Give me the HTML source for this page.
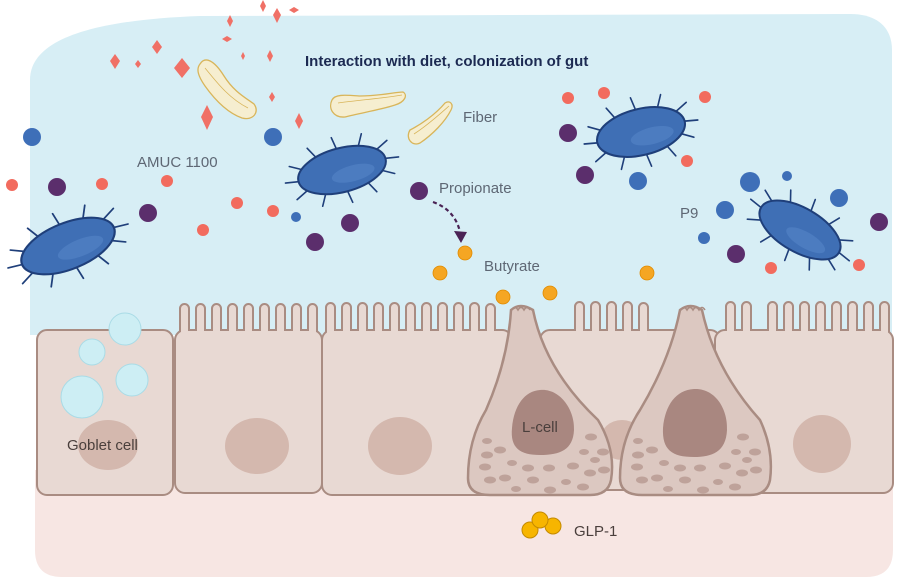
<!DOCTYPE html>
<html><head><meta charset="utf-8"><style>
html,body{margin:0;padding:0;background:#fff;}
svg{display:block;}
text{font-family:"Liberation Sans",sans-serif;}
</style></head><body>
<svg width="900" height="577" viewBox="0 0 900 577" xmlns="http://www.w3.org/2000/svg">
<defs>
<g id="bac">
 <g stroke="#1f3f7a" stroke-width="1.6" fill="none" stroke-linecap="round">
  <path d="M45,0 L58,2 M39,11 L50,17 M22,19 L28,30 M0,22 L2,34 M-22,19 L-28,30 M-39,11 L-51,17 M-45,0 L-58,-2 M-39,-11 L-50,-17 M-22,-19 L-28,-30 M0,-22 L-2,-34 M22,-19 L28,-30 M39,-11 L51,-17"/>
 </g>
 <ellipse cx="0" cy="0" rx="45" ry="22" fill="#3f6fb5" stroke="#1f3f7a" stroke-width="2"/>
 <ellipse cx="10" cy="6" rx="22" ry="8" fill="#5585c8" opacity="0.6"/>
</g>
</defs>

<!-- lumen -->
<path d="M30,80 C30,40 90,20 200,16 L850,14 C880,14 892,30 892,50 L892,335 L30,335 Z" fill="#d7eef5"/>
<!-- lamina -->
<path d="M35,470 L893,470 L893,550 Q893,577 866,577 L62,577 Q35,577 35,550 Z" fill="#f7e6e3"/>

<!-- villi (drawn first) -->
<g stroke="#a98c82" stroke-width="2" fill="#e8d9d3">
 <rect x="180" y="304" width="9" height="32" rx="4.5"/><rect x="196" y="304" width="9" height="32" rx="4.5"/><rect x="212" y="304" width="9" height="32" rx="4.5"/><rect x="228" y="304" width="9" height="32" rx="4.5"/><rect x="244" y="304" width="9" height="32" rx="4.5"/><rect x="260" y="304" width="9" height="32" rx="4.5"/><rect x="276" y="304" width="9" height="32" rx="4.5"/><rect x="292" y="304" width="9" height="32" rx="4.5"/><rect x="308" y="304" width="9" height="32" rx="4.5"/>
 <rect x="326" y="303" width="9" height="33" rx="4.5"/><rect x="342" y="303" width="9" height="33" rx="4.5"/><rect x="358" y="303" width="9" height="33" rx="4.5"/><rect x="374" y="303" width="9" height="33" rx="4.5"/><rect x="390" y="303" width="9" height="33" rx="4.5"/><rect x="406" y="303" width="9" height="33" rx="4.5"/><rect x="422" y="303" width="9" height="33" rx="4.5"/><rect x="438" y="303" width="9" height="33" rx="4.5"/><rect x="454" y="303" width="9" height="33" rx="4.5"/><rect x="470" y="303" width="9" height="33" rx="4.5"/><rect x="486" y="304" width="9" height="32" rx="4.5"/>
 <rect x="575" y="302" width="9" height="34" rx="4.5"/><rect x="591" y="302" width="9" height="34" rx="4.5"/><rect x="607" y="302" width="9" height="34" rx="4.5"/><rect x="623" y="302" width="9" height="34" rx="4.5"/><rect x="639" y="303" width="9" height="33" rx="4.5"/>
 <rect x="726" y="302" width="9" height="34" rx="4.5"/><rect x="742" y="302" width="9" height="34" rx="4.5"/>
 <rect x="768" y="302" width="9" height="34" rx="4.5"/><rect x="784" y="302" width="9" height="34" rx="4.5"/><rect x="800" y="302" width="9" height="34" rx="4.5"/><rect x="816" y="302" width="9" height="34" rx="4.5"/><rect x="832" y="302" width="9" height="34" rx="4.5"/><rect x="848" y="302" width="9" height="34" rx="4.5"/><rect x="864" y="302" width="9" height="34" rx="4.5"/><rect x="880" y="302" width="9" height="34" rx="4.5"/>
</g>

<!-- cells -->
<g stroke="#a98c82" stroke-width="2" fill="#e8d9d3">
 <rect x="37" y="330" width="136" height="165" rx="10"/>
 <rect x="175" y="330" width="147" height="163" rx="10"/>
 <rect x="322" y="330" width="190" height="165" rx="10"/>
 <rect x="540" y="330" width="180" height="160" rx="10"/>
 <rect x="715" y="330" width="178" height="163" rx="10"/>
</g>
<!-- covers inside villi -->
<g fill="#e8d9d3">
 <rect x="181" y="327" width="7" height="8"/><rect x="197" y="327" width="7" height="8"/><rect x="213" y="327" width="7" height="8"/><rect x="229" y="327" width="7" height="8"/><rect x="245" y="327" width="7" height="8"/><rect x="261" y="327" width="7" height="8"/><rect x="277" y="327" width="7" height="8"/><rect x="293" y="327" width="7" height="8"/><rect x="309" y="327" width="7" height="8"/>
 <rect x="327" y="327" width="7" height="8"/><rect x="343" y="327" width="7" height="8"/><rect x="359" y="327" width="7" height="8"/><rect x="375" y="327" width="7" height="8"/><rect x="391" y="327" width="7" height="8"/><rect x="407" y="327" width="7" height="8"/><rect x="423" y="327" width="7" height="8"/><rect x="439" y="327" width="7" height="8"/><rect x="455" y="327" width="7" height="8"/><rect x="471" y="327" width="7" height="8"/><rect x="487" y="327" width="7" height="8"/>
 <rect x="576" y="327" width="7" height="8"/><rect x="592" y="327" width="7" height="8"/><rect x="608" y="327" width="7" height="8"/><rect x="624" y="327" width="7" height="8"/><rect x="640" y="327" width="7" height="8"/>
 <rect x="727" y="327" width="7" height="8"/><rect x="743" y="327" width="7" height="8"/>
 <rect x="769" y="327" width="7" height="8"/><rect x="785" y="327" width="7" height="8"/><rect x="801" y="327" width="7" height="8"/><rect x="817" y="327" width="7" height="8"/><rect x="833" y="327" width="7" height="8"/><rect x="849" y="327" width="7" height="8"/><rect x="865" y="327" width="7" height="8"/><rect x="881" y="327" width="7" height="8"/>
</g>
<!-- nuclei -->
<g fill="#d4b8ae">
 <ellipse cx="108" cy="445" rx="30" ry="25"/>
 <ellipse cx="257" cy="446" rx="32" ry="28"/>
 <ellipse cx="400" cy="446" rx="32" ry="29"/>
 <ellipse cx="622" cy="440" rx="22" ry="20"/>
 <ellipse cx="822" cy="444" rx="29" ry="29"/>
</g>
<!-- goblet vesicles -->
<g fill="#cdeef4" stroke="#a9dbe6" stroke-width="1">
 <circle cx="125" cy="329" r="16"/>
 <circle cx="92" cy="352" r="13"/>
 <circle cx="132" cy="380" r="16"/>
 <circle cx="82" cy="397" r="21"/>
</g>
<!-- L-cells -->
<g stroke="#a98c82" stroke-width="2.5" fill="#dcc8c1">
 <path d="M511,310 Q520,302 533,310 Q545,370 598,420 Q616,450 611,480 Q608,495 590,495 L490,495 Q468,495 468,478 Q468,440 486,410 Q508,360 511,310 Z"/>
 <path d="M680,310 Q690,302 702,310 Q715,370 760,420 Q774,450 770,480 Q767,495 750,495 L642,495 Q620,495 620,478 Q620,440 640,410 Q670,360 680,310 Z"/>
</g>
<g stroke="#a98c82" stroke-width="1.5" fill="none">
 <path d="M512,310 q3,-5 6,0 q3,-5 6,0 q3,-5 6,0"/>
 <path d="M681,310 q3,-5 6,0 q3,-5 6,0 q3,-5 6,0 q3,-5 6,0"/>
</g>
<g fill="#a98780">
 <path d="M540,390 C560,388 575,410 574,430 C573,450 560,455 540,455 C520,455 510,448 512,428 C514,405 525,391 540,390 Z"/>
 <path d="M694,389 C716,388 728,410 727,430 C726,452 712,457 694,457 C672,457 662,450 663,428 C665,405 676,390 694,389 Z"/>
</g>
<g fill="#bea29a">
 <ellipse cx="487" cy="441" rx="5" ry="3"/><ellipse cx="500" cy="450" rx="6" ry="3.5"/><ellipse cx="487" cy="455" rx="6" ry="3.5"/><ellipse cx="512" cy="463" rx="5" ry="3"/><ellipse cx="485" cy="467" rx="6" ry="3.5"/><ellipse cx="528" cy="468" rx="6" ry="3.5"/><ellipse cx="549" cy="468" rx="6" ry="3.5"/><ellipse cx="573" cy="466" rx="6" ry="3.5"/><ellipse cx="590" cy="473" rx="6" ry="3.5"/><ellipse cx="505" cy="478" rx="6" ry="3.5"/><ellipse cx="533" cy="480" rx="6" ry="3.5"/><ellipse cx="490" cy="480" rx="6" ry="3.5"/><ellipse cx="566" cy="482" rx="5" ry="3"/><ellipse cx="550" cy="490" rx="6" ry="3.5"/><ellipse cx="583" cy="487" rx="6" ry="3.5"/><ellipse cx="516" cy="489" rx="5" ry="3"/><ellipse cx="591" cy="437" rx="6" ry="3.5"/><ellipse cx="603" cy="452" rx="6" ry="3.5"/><ellipse cx="584" cy="452" rx="5" ry="3"/><ellipse cx="604" cy="470" rx="6" ry="3.5"/><ellipse cx="595" cy="460" rx="5" ry="3"/>
 <ellipse cx="638" cy="441" rx="5" ry="3"/><ellipse cx="652" cy="450" rx="6" ry="3.5"/><ellipse cx="638" cy="455" rx="6" ry="3.5"/><ellipse cx="664" cy="463" rx="5" ry="3"/><ellipse cx="637" cy="467" rx="6" ry="3.5"/><ellipse cx="680" cy="468" rx="6" ry="3.5"/><ellipse cx="700" cy="468" rx="6" ry="3.5"/><ellipse cx="725" cy="466" rx="6" ry="3.5"/><ellipse cx="742" cy="473" rx="6" ry="3.5"/><ellipse cx="657" cy="478" rx="6" ry="3.5"/><ellipse cx="685" cy="480" rx="6" ry="3.5"/><ellipse cx="642" cy="480" rx="6" ry="3.5"/><ellipse cx="718" cy="482" rx="5" ry="3"/><ellipse cx="703" cy="490" rx="6" ry="3.5"/><ellipse cx="735" cy="487" rx="6" ry="3.5"/><ellipse cx="668" cy="489" rx="5" ry="3"/><ellipse cx="743" cy="437" rx="6" ry="3.5"/><ellipse cx="755" cy="452" rx="6" ry="3.5"/><ellipse cx="736" cy="452" rx="5" ry="3"/><ellipse cx="756" cy="470" rx="6" ry="3.5"/><ellipse cx="747" cy="460" rx="5" ry="3"/>
</g>

<!-- GLP-1 -->
<g fill="#f7b500" stroke="#c48a00" stroke-width="1">
 <circle cx="530" cy="530" r="8"/><circle cx="553" cy="526" r="8"/><circle cx="540" cy="520" r="8"/>
</g>

<!-- red diamonds -->
<g fill="#f07066">
 <path d="M182,58 l8,10 -8,10 -8,-10z"/><path d="M157,40 l5,7 -5,7 -5,-7z"/><path d="M115,54 l5,7 -5,8 -5,-8z"/><path d="M138,60 l3,4 -3,4 -3,-4z"/><path d="M207,105 l6,12 -6,13 -6,-13z"/><path d="M230,15 l3,6 -3,6 -3,-6z"/><path d="M263,0 l3,6 -3,6 -3,-6z"/><path d="M277,8 l4,7 -4,8 -4,-8z"/><path d="M294,7 l5,3 -5,3 -5,-3z"/><path d="M227,36 l5,3 -5,3 -5,-3z"/><path d="M270,50 l3,6 -3,6 -3,-6z"/><path d="M272,92 l3,5 -3,5 -3,-5z"/><path d="M299,113 l4,8 -4,8 -4,-8z"/><path d="M243,52 l2,4 -2,4 -2,-4z"/>
</g>

<!-- fibers -->
<g fill="#f6eed0" stroke="#d8b55a" stroke-width="1.3">
 <path d="M200,64 C205,56 214,60 224,76 C234,92 246,98 254,104 C260,112 253,121 242,118 C228,113 215,100 205,86 C198,76 196,69 200,64Z"/>
 <path d="M332,100 C335,94 345,95 360,96 C380,96 395,92 403,92 C408,95 405,102 395,105 C380,110 360,113 345,117 C333,118 328,108 332,100Z"/>
 <path d="M410,130 C420,125 435,115 445,103 C450,100 454,104 451,110 C445,122 432,135 420,143 C412,147 405,138 410,130Z"/>
</g>
<g stroke="#d8b55a" stroke-width="0.8" fill="none">
 <path d="M205,68 C215,80 228,98 248,108"/>
 <path d="M338,103 C360,100 385,98 402,95"/>
 <path d="M414,134 C428,125 440,114 449,106"/>
</g>

<!-- bacteria -->
<use href="#bac" transform="translate(68,246) rotate(-22) scale(1.1,1.05)"/>
<use href="#bac" transform="translate(342,170) rotate(-15)"/>
<use href="#bac" transform="translate(641,132) rotate(-14) scale(1,1.05)"/>
<use href="#bac" transform="translate(800,230) rotate(30)"/>

<!-- dots -->
<g fill="#f26b5e">
 <circle cx="12" cy="185" r="6"/><circle cx="102" cy="184" r="6"/><circle cx="167" cy="181" r="6"/><circle cx="203" cy="230" r="6"/><circle cx="237" cy="203" r="6"/><circle cx="273" cy="211" r="6"/><circle cx="568" cy="98" r="6"/><circle cx="604" cy="93" r="6"/><circle cx="705" cy="97" r="6"/><circle cx="687" cy="161" r="6"/><circle cx="771" cy="268" r="6"/><circle cx="859" cy="265" r="6"/>
</g>
<g fill="#5b2e6c">
 <circle cx="57" cy="187" r="9"/><circle cx="148" cy="213" r="9"/><circle cx="315" cy="242" r="9"/><circle cx="350" cy="223" r="9"/><circle cx="419" cy="191" r="9"/><circle cx="568" cy="133" r="9"/><circle cx="585" cy="175" r="9"/><circle cx="736" cy="254" r="9"/><circle cx="879" cy="222" r="9"/>
</g>
<g fill="#3e6fb8">
 <circle cx="32" cy="137" r="9"/><circle cx="273" cy="137" r="9"/><circle cx="296" cy="217" r="5"/><circle cx="638" cy="181" r="9"/><circle cx="750" cy="182" r="10"/><circle cx="787" cy="176" r="5"/><circle cx="839" cy="198" r="9"/><circle cx="725" cy="210" r="9"/><circle cx="704" cy="238" r="6"/>
</g>
<g fill="#f5a623" stroke="#e08b00" stroke-width="0.8">
 <circle cx="440" cy="273" r="7"/><circle cx="465" cy="253" r="7"/><circle cx="503" cy="297" r="7"/><circle cx="550" cy="293" r="7"/><circle cx="647" cy="273" r="7"/>
</g>

<!-- arrow -->
<path d="M433,202 Q455,210 460,232" fill="none" stroke="#4a2355" stroke-width="2.2" stroke-dasharray="4,3"/>
<path d="M454,231 L467,232 L461,243 Z" fill="#4a2355"/>

<!-- labels -->
<text x="305" y="66" font-size="15" font-weight="bold" fill="#1c2a52">Interaction with diet, colonization of gut</text>
<g font-size="15" fill="#5e6774">
 <text x="137" y="167">AMUC 1100</text>
 <text x="463" y="122">Fiber</text>
 <text x="439" y="193">Propionate</text>
 <text x="484" y="271">Butyrate</text>
 <text x="680" y="218">P9</text>
</g>
<g font-size="15" fill="#4a3f3c">
 <text x="67" y="450">Goblet cell</text>
 <text x="522" y="432">L-cell</text>
 <text x="574" y="536">GLP-1</text>
</g>
</svg>
</body></html>
